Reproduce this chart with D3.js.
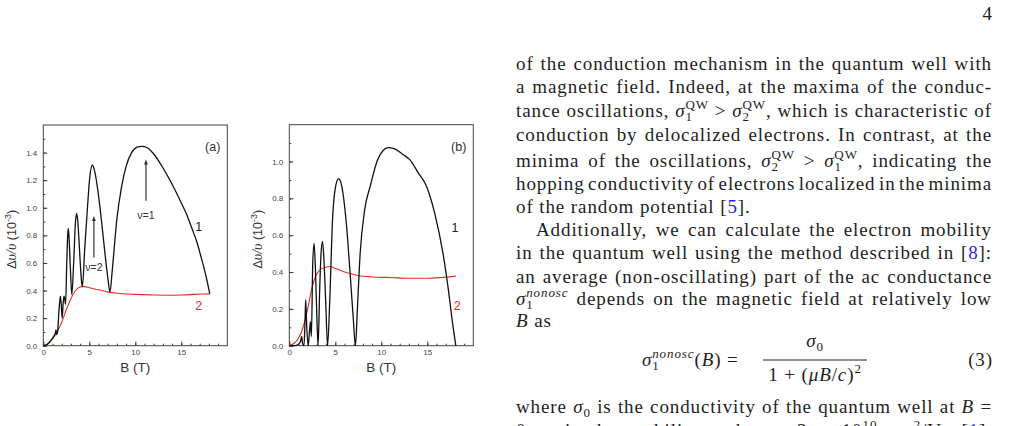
<!DOCTYPE html>
<html>
<head>
<meta charset="utf-8">
<script src="https://cdn.jsdelivr.net/npm/d3@7/dist/d3.min.js"></script>
<style>
body{margin:0;background:#fff}
svg text{font-family:"Liberation Sans",Arial,sans-serif}
.txt{font-family:"Liberation Serif","Times New Roman",serif;font-size:19px;fill:#1e1e1e;letter-spacing:0.9px}
</style>
</head>
<body>
<svg id="page" width="1015" height="426"></svg>
<script>
// panel (a): curve 1 (black) and curve 2 (red)
const fieldA1 = [0,0.3,0.6,0.9,1.15,1.3,1.38,1.45,1.55,1.7,1.85,1.95,2.05,2.15,2.25,2.35,2.42,2.55,2.65,2.72,2.8,2.95,3.1,3.3,3.5,3.63,3.75,3.95,4.15,4.25,4.5,4.8,5.05,5.33,5.6,5.9,6.3,6.7,7.0,7.25,7.5,8.0,8.5,9.0,9.6,10.2,10.7,11.3,12.0,13.0,14.0,15.0,15.6,16.1,16.7,17.2,17.7,18.1]
const valueA1 = [0,0.005,0.02,0.045,0.07,0.09,0.115,0.08,0.1,0.25,0.36,0.3,0.2,0.3,0.36,0.33,0.3,0.6,0.8,0.85,0.78,0.55,0.37,0.6,0.9,0.96,0.9,0.68,0.47,0.43,0.7,1.0,1.22,1.31,1.26,1.14,0.92,0.67,0.5,0.39,0.55,0.92,1.15,1.3,1.4,1.44,1.445,1.435,1.39,1.29,1.17,1.035,0.95,0.86,0.75,0.63,0.5,0.376]
const fieldA2 = [0,0.5,1.0,1.5,2.0,2.5,3.0,3.5,4.0,4.4,5.0,6.0,7.0,8.0,10,12,13.5,15,16.5,18.1]
const valueA2 = [0,0.015,0.05,0.1,0.17,0.26,0.34,0.4,0.425,0.43,0.42,0.405,0.39,0.38,0.372,0.368,0.366,0.368,0.372,0.376]

// panel (b)
const fieldB1 = [0,0.5,0.9,1.2,1.35,1.45,1.6,1.7,1.78,1.9,2.05,2.2,2.3,2.4,2.55,2.7,2.85,3.0,3.13,3.3,3.45,3.61,3.75,3.95,4.16,4.4,4.7,5.04,5.36,5.7,6.16,6.6,6.95,7.19,7.4,7.7,8.2,8.8,9.6,10.2,10.7,11.4,12.3,13.1,14.0,14.9,15.8,16.7,17.3,17.7,18.1]
const valueB1 = [0,0,0.005,0.02,0.05,0.01,0,0.12,0.25,0.1,0,0.08,0.13,0.05,0.45,0.555,0.4,0.15,0,0.3,0.5,0.567,0.48,0.25,0,0.25,0.685,0.867,0.907,0.867,0.685,0.4,0.15,0,0.2,0.5,0.74,0.867,1.01,1.06,1.075,1.07,1.04,1.01,0.94,0.867,0.72,0.503,0.3,0.14,0]
const fieldB2 = [0,0.5,1.0,1.5,2.0,2.4,2.8,3.3,3.9,4.4,5,6,7,8,9,11,13,15,16.5,18.1]
const valueB2 = [0,0.012,0.04,0.1,0.2,0.3,0.37,0.41,0.425,0.43,0.42,0.4,0.387,0.377,0.373,0.37,0.366,0.366,0.37,0.378]

const xTicks = [0,5,10,15]
const yTicksA = [0,0.2,0.4,0.6,0.8,1.0,1.2,1.4]
const yTicksB = [0,0.2,0.4,0.6,0.8,1.0]

const svg = d3.select('#page')

function panel(cfg){
	const g = svg.append('g')
	const x = d3.scaleLinear().domain([0,20]).range([cfg.left,cfg.right])
	const y = d3.scaleLinear().domain([0,cfg.ymax]).range([cfg.bottom,cfg.top])

	// minor ticks first, then majors with labels
	g.append('g').attr('transform','translate(0,'+cfg.bottom+')')
		.call(d3.axisBottom(x).tickValues(d3.range(0,20,1)).tickSize(-2).tickFormat(''))
	g.append('g').attr('transform','translate(0,'+cfg.bottom+')')
		.call(d3.axisBottom(x).tickValues(xTicks).tickSize(-4).tickPadding(4).tickFormat(d3.format('d')))
	g.append('g').attr('transform','translate('+cfg.left+',0)')
		.call(d3.axisLeft(y).tickValues(d3.range(0,cfg.ymax,0.1)).tickSize(-2).tickFormat(''))
	g.append('g').attr('transform','translate('+cfg.left+',0)')
		.call(d3.axisLeft(y).tickValues(cfg.yTicks).tickSize(-4).tickPadding(6).tickFormat(d3.format('.1f')))
	g.selectAll('.domain').remove()
	g.selectAll('.tick line').attr('stroke','#333')
	g.selectAll('.tick text').attr('font-size',8).attr('fill','#444').attr('font-family','Liberation Sans, Arial, sans-serif')

	g.append('rect').attr('x',cfg.left).attr('y',cfg.top)
		.attr('width',cfg.right-cfg.left).attr('height',cfg.bottom-cfg.top)
		.attr('fill','none').attr('stroke','#444').attr('stroke-width',1)

	const line = (fx,fy) => d3.line().x(i=>x(fx[i])).y(i=>y(fy[i])).curve(d3.curveMonotoneX)(d3.range(fx.length))
	g.append('path').attr('d',line(cfg.f2,cfg.v2)).attr('fill','none').attr('stroke','#ec2a22').attr('stroke-width',1.1)
	g.append('path').attr('d',line(cfg.f1,cfg.v1)).attr('fill','none').attr('stroke','#111').attr('stroke-width',1.3)

	g.append('text').attr('x',cfg.right-7).attr('y',cfg.top+26).attr('text-anchor','end')
		.attr('font-size',12.5).attr('fill','#333').text(cfg.tag)
	g.append('text').attr('x',x(cfg.lab1[0])).attr('y',y(cfg.lab1[1])).attr('text-anchor','middle')
		.attr('font-size',12.5).attr('fill','#222').text('1')
	g.append('text').attr('x',x(cfg.lab2[0])).attr('y',y(cfg.lab2[1])).attr('text-anchor','middle')
		.attr('font-size',12.5).attr('fill','#ec2a22').text('2')

	g.append('text').attr('x',(cfg.left+cfg.right)/2).attr('y',cfg.bottom+26).attr('text-anchor','middle')
		.attr('font-size',13.5).attr('fill','#333').text('B (T)')

	const yt = g.append('text').attr('transform','translate('+(cfg.left-27)+','+((cfg.top+cfg.bottom)/2+4)+') rotate(-90)')
		.attr('text-anchor','middle').attr('font-size',12.5).attr('fill','#333')
	yt.append('tspan').text('Δ')
	yt.append('tspan').attr('font-style','italic').attr('font-family','Liberation Serif, serif').attr('font-size',14).text('υ/υ')
	yt.append('tspan').text(' (10')
	yt.append('tspan').attr('font-size',9).attr('dy',-5).text('-3')
	yt.append('tspan').attr('dy',5).text(')')

	// arrows
	;(cfg.arrows||[]).forEach(a=>{
		g.append('line').attr('x1',x(a.b)).attr('x2',x(a.b)).attr('y1',y(a.from)).attr('y2',y(a.to)+4)
			.attr('stroke','#333').attr('stroke-width',1.2)
		g.append('path').attr('d','M'+(x(a.b)-2)+','+(y(a.to)+5)+'L'+x(a.b)+','+y(a.to)+'L'+(x(a.b)+2)+','+(y(a.to)+5)+'Z').attr('fill','#333')
		g.append('text').attr('x',x(a.b)).attr('y',y(a.at)).attr('text-anchor','middle')
			.attr('font-size',10.5).attr('fill','#333').text(a.label)
	})
}

panel({left:43.3,right:227.3,top:125,bottom:345.7,ymax:1.6,yTicks:yTicksA,tag:'(a)',
	f1:fieldA1,v1:valueA1,f2:fieldA2,v2:valueA2,lab1:[16.9,0.83],lab2:[16.9,0.26],
	arrows:[{b:11.16,from:1.05,to:1.35,label:'ν=1',at:0.92},{b:5.5,from:0.64,to:0.94,label:'ν=2',at:0.54}]})
panel({left:289.3,right:473.3,top:124.7,bottom:345.7,ymax:1.2,yTicks:yTicksB,tag:'(b)',
	f1:fieldB1,v1:valueB1,f2:fieldB2,v2:valueB2,lab1:[18.0,0.62],lab2:[18.25,0.195]})

// text column on the right
const colL = 516, colR = 992
const sig = (sub,sup)=>({m:'σ',sub:sub,sup:sup})
const lines = [
	{y:70,parts:['of the conduction mechanism in the quantum well with']},
	{y:93.3,parts:['a magnetic field. Indeed, at the maxima of the conduc-']},
	{y:116.7,parts:['tance oscillations, ',sig('1','QW'),' > ',sig('2','QW'),', which is characteristic of']},
	{y:141,parts:['conduction by delocalized electrons. In contrast, at the']},
	{y:166.7,parts:['minima of the oscillations, ',sig('2','QW'),' > ',sig('1','QW'),', indicating the']},
	{y:190,parts:['hopping conductivity of electrons localized in the minima']},
	{y:213.3,last:true,parts:['of the random potential [',{ref:'5'},'].']},
	{y:236,x:536,parts:['Additionally, we can calculate the electron mobility']},
	{y:259.3,parts:['in the quantum well using the method described in [',{ref:'8'},']:']},
	{y:283,parts:['an average (non-oscillating) part of the ac conductance']},
	{y:305,parts:[{m:'σ',sub:'1',sup:'nonosc',isup:true},' depends on the magnetic field at relatively low']},
	{y:327.3,last:true,parts:[{i:'B'},' as']},
	{y:413.3,parts:['where ',{m:'σ',sub:'0'},' is the conductivity of the quantum well at ',{i:'B'},' =']},
	{y:437,parts:['0, ',{i:'μ'},' is the mobility and ',{i:'μ'},' = 3 × 10',{sup:'10'},' cm',{sup:'2'},'/Vs [',{ref:'1'},'].']}
]

// writes the parts of a line; a baseline shift is undone on the next piece
function write(t,parts){
	let back = 0
	const span = (s,dy) => {
		const sp = t.append('tspan').text(s)
		if(dy+back) sp.attr('dy',dy+back)
		back = 0
		return sp
	}
	parts.forEach(p=>{
		if(typeof p==='string') span(p,0)
		else if(p.i) span(p.i,0).attr('font-style','italic')
		else if(p.ref) span(p.ref,0).attr('fill','#1f1fff')
		else if(p.m){
			span(p.m,0).attr('font-style','italic')
			span(p.sub,4).attr('font-size',13)
			back = -4
			if(p.sup){
				span(p.sup,-12+4).attr('font-size',13).attr('dx',-7.5).attr('font-style',p.isup?'italic':null)
				back = 8
			}
		}
		else if(p.sup){
			span(p.sup,-8).attr('font-size',13)
			back = 8
		}
	})
}

lines.forEach(l=>{
	const t = svg.append('text').attr('class','txt').attr('x',l.x||colL).attr('y',l.y)
	write(t,l.parts)
	if(!l.last){
		const bb = t.node().getBBox()
		const spaces = t.text().split(' ').length-1
		if(spaces>0) t.attr('word-spacing',(colR-(bb.x+bb.width))/spaces)
	}
})

// equation (3)
const lhs = svg.append('text').attr('class','txt').attr('x',642).attr('y',366)
write(lhs,[{m:'σ',sub:'1',sup:'nonosc',isup:true},'(',{i:'B'},') ='])
const num = svg.append('text').attr('class','txt').attr('x',815).attr('y',347).attr('text-anchor','middle')
write(num,[{m:'σ',sub:'0'}])
svg.append('line').attr('x1',763).attr('x2',867).attr('y1',360).attr('y2',360).attr('stroke','#1e1e1e').attr('stroke-width',1.1)
const den = svg.append('text').attr('class','txt').attr('x',815).attr('y',381).attr('text-anchor','middle')
write(den,['1 + (',{i:'μB'},'/',{i:'c'},')',{sup:'2'}])
svg.append('text').attr('class','txt').attr('x',993).attr('y',366).attr('text-anchor','end').text('(3)')

svg.append('text').attr('class','txt').attr('x',993).attr('y',20).attr('text-anchor','end').text('4')
</script>
</body>
</html>
